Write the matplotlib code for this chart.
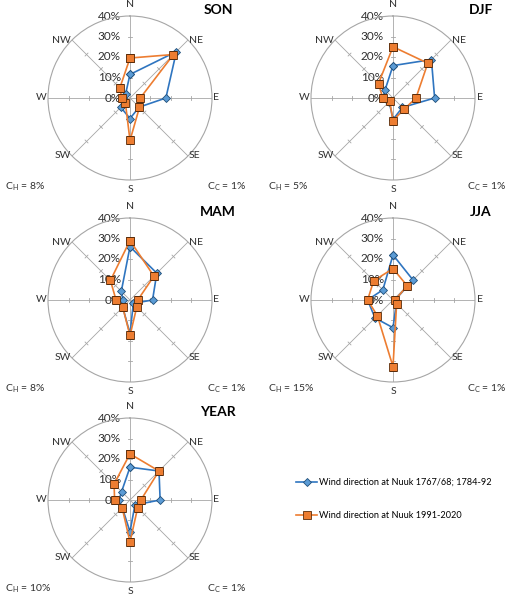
import numpy as np
import matplotlib
matplotlib.use('Agg')
import matplotlib.pyplot as plt

plt.rcParams['font.family'] = ['Lato', 'DejaVu Sans']
plt.rcParams['mathtext.fontset'] = 'custom'
plt.rcParams['mathtext.rm'] = 'Lato'

# wind direction frequencies (%), order N, NE, E, SE, S, SW, W, NW
directions = ['N', 'NE', 'E', 'SE', 'S', 'SW', 'W', 'NW']
seasons = ['SON', 'DJF', 'MAM', 'JJA', 'YEAR']
old_son = [11.5, 32, 17.5, 6.3, 10, 6.4, 3.3, 3]
new_son = [19.5, 30, 5, 6.5, 20.7, 3.2, 4, 7]
old_djf = [15.8, 26.5, 20.3, 6.5, 10.5, 2.6, 5, 5.5]
new_djf = [25, 24, 11.2, 7.7, 11, 2.3, 5, 10]
old_mam = [26, 18.5, 11, 2.3, 16.5, 5, 3.5, 6]
new_mam = [29, 16.5, 3.8, 4.7, 17.3, 5, 6.8, 13.5]
old_jja = [22, 13.8, 1, 2.3, 13.5, 12.4, 12.4, 7]
new_jja = [15.3, 9.8, 1, 2.5, 32.5, 10.8, 12.4, 13.3]
old_year = [16, 20, 14.7, 3.4, 15.5, 5.3, 5.4, 5.8]
new_year = [22.5, 20, 5.3, 5.3, 20.5, 5.4, 7.5, 11]
calm_h = [8, 5, 8, 15, 10]
calm_c = [1, 1, 1, 1, 1]
rings = [0, 10, 20, 30, 40]

old_all = [old_son, old_djf, old_mam, old_jja, old_year]
new_all = [new_son, new_djf, new_mam, new_jja, new_year]

blue_line = '#2f75c0'
blue_fill = '#5b9bd5'
blue_edge = '#1f4e79'
orange_line = '#ed7d31'
orange_edge = '#5a2d0c'
grey = '#a6a6a6'
txt = '#303030'

W, H = 511, 600
fig = plt.figure(figsize=(W / 100, H / 100), dpi=100)

centers = [(130, 98), (393, 98), (130, 300), (393, 300), (130, 500)]
R = 82
theta = np.deg2rad(np.arange(0, 360, 45))
theta_c = np.append(theta, theta[0])

# label offsets in px (dx, dy) and alignment for the direction names
lab_pos = {
    'N': (0, 7, 'center', 'bottom'), 'NE': (1, 0, 'left', 'center'),
    'E': (1.5, 0, 'left', 'center'), 'SE': (1, 0, 'left', 'center'),
    'S': (0, -5, 'center', 'top'), 'SW': (-1.5, 0, 'right', 'center'),
    'W': (-1.5, 0, 'right', 'center'), 'NW': (-1.5, 0, 'right', 'center'),
}

lines = []
for i, name in enumerate(seasons):
    cx, cy = centers[i]
    ax = fig.add_axes([(cx - R) / W, (H - cy - R) / H, 2 * R / W, 2 * R / H],
                      projection='polar')
    ax.set_theta_zero_location('N')
    ax.set_theta_direction(-1)
    ax.set_ylim(0, 40)
    ax.set_xticks([])
    ax.set_yticks([])
    ax.grid(False)
    ax.spines['polar'].set_color(grey)
    ax.spines['polar'].set_linewidth(0.8)

    # spokes
    for t in theta:
        ax.plot([t, t], [0, 40], color=grey, lw=0.6, zorder=1)
    # small ticks on spokes
    for t in theta:
        for r in rings[1:-1]:
            d = 1.0 / r
            ax.plot([t - d, t + d], [r, r], color=grey, lw=0.6, zorder=1)

    # radial labels
    for r in rings:
        ax.annotate(f'{r}%', xy=(0, r), xytext=(-6.5, 0), textcoords='offset points',
                    ha='right', va='center', fontsize=8.5, color=txt,
                    annotation_clip=False, zorder=2)

    # direction labels
    for t, d in zip(theta, directions):
        dx, dy, ha, va = lab_pos[d]
        ax.annotate(d, xy=(t, 40), xytext=(dx * 0.72, dy * 0.72),
                    textcoords='offset points', ha=ha, va=va, fontsize=7.5,
                    color=txt, annotation_clip=False)

    l1, = ax.plot(theta_c, old_all[i] + old_all[i][:1], color=blue_line, lw=1.2,
                  marker='D', markersize=3.8, markerfacecolor=blue_fill,
                  markeredgecolor=blue_edge, markeredgewidth=0.6, zorder=3)
    l2, = ax.plot(theta_c, new_all[i] + new_all[i][:1], color=orange_line, lw=1.2,
                  marker='s', markersize=5.2, markerfacecolor=orange_line,
                  markeredgecolor=orange_edge, markeredgewidth=0.6, zorder=4)
    lines = [l1, l2]

    # season title and calm labels
    col_right = 250 if cx < 256 else 510
    col_left = 5 if cx < 256 else 268
    fig.text((cx + 88) / W, 1 - (cy - 88) / H, name, fontsize=10, fontweight='bold',
             ha='center', va='center', color='#000000')
    fig.text(col_left / W, 1 - (cy + 89) / H, r'C$_{\mathrm{H}}$ = ' + f'{calm_h[i]}%',
             fontsize=7.5, ha='left', va='center', color=txt)
    fig.text((col_right - 4) / W, 1 - (cy + 89) / H, r'C$_{\mathrm{C}}$ = ' + f'{calm_c[i]}%',
             fontsize=7.5, ha='right', va='center', color=txt)

fig.legend(lines, ['Wind direction at Nuuk 1767/68; 1784-92',
                   'Wind direction at Nuuk 1991-2020'],
           loc='upper left', bbox_to_anchor=(296 / W, 1 - 478 / H),
           frameon=False, fontsize=6.6, handlelength=2.3, handletextpad=0.2,
           labelspacing=2.6, borderpad=0, borderaxespad=0)

fig.savefig('out.png', dpi=100)
